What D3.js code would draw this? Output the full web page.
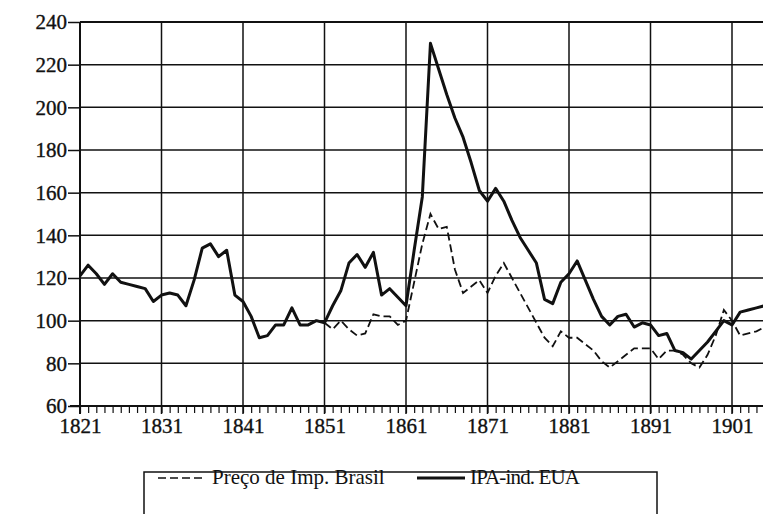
<!DOCTYPE html>
<html>
<head>
<meta charset="utf-8">
<script src="https://cdn.jsdelivr.net/npm/d3@7/dist/d3.min.js"></script>
<style>
  body { margin: 0; background: #fff; }
  svg { display: block; }
</style>
</head>
<body>
<svg id="chart"></svg>
<script>
// IPA-ind. EUA, 1821-1905
var ipaStart = 1821;
var ipaEua = [
  121, 126, 122, 117, 122, 118, 117, 116, 115, 109,
  112, 113, 112, 107, 119, 134, 136, 130, 133, 112,
  109, 102, 92, 93, 98, 98, 106, 98, 98, 100,
  99, 107, 114, 127, 131, 125, 132, 112, 115, 111,
  107, 133, 158, 230, 218, 206, 195, 186, 174, 161,
  156, 162, 156, 147, 139, 133, 127, 110, 108, 118,
  122, 128, 119, 110, 102, 98, 102, 103, 97, 99,
  98, 93, 94, 86, 85, 82, 86, 90, 95, 100,
  98, 104, 105, 106, 107
];

// Preço de Imp. Brasil, 1851-1905
var precoStart = 1851;
var precoBrasil = [
  99, 96, 100, 96, 93, 94, 103, 102, 102, 98,
  100, 118, 136, 150, 143, 144, 124, 113, 116, 119,
  113, 121, 127, 120, 113, 106, 99, 92, 88, 95,
  92, 92, 89, 86, 81, 78, 81, 84, 87, 87,
  87, 82, 86, 86, 84, 80, 78, 84, 93, 105,
  100, 93, 94, 95, 97
];

var yTicks = [60, 80, 100, 120, 140, 160, 180, 200, 220, 240];
var xLabels = [1821, 1831, 1841, 1851, 1861, 1871, 1881, 1891, 1901];
var legendLabels = ["Preço de Imp. Brasil", "IPA-ind. EUA"];

var serif = "'Liberation Serif', 'DejaVu Serif', serif";
var ink = "#111";
var width = 763, height = 514;
var svg = d3.select("svg#chart").attr("width", width).attr("height", height);

var x = d3.scaleLinear().domain([1821, 1901]).range([80, 732]);
var y = d3.scaleLinear().domain([60, 240]).range([406, 22]);
var xEnd = 1906;

svg.append("clipPath").attr("id", "clip")
  .append("rect").attr("x", 0).attr("y", 0).attr("width", width).attr("height", height);

// horizontal grid
svg.append("g")
  .selectAll("line").data(yTicks.slice(1)).enter()
  .append("line")
  .attr("x1", x(1821)).attr("x2", width)
  .attr("y1", function(d) { return y(d); })
  .attr("y2", function(d) { return y(d); })
  .attr("stroke", ink)
  .attr("stroke-width", function(d) { return d === 240 ? 2 : 1.5; });

// vertical grid
svg.append("g")
  .selectAll("line").data(xLabels.slice(1)).enter()
  .append("line")
  .attr("x1", function(d) { return x(d); })
  .attr("x2", function(d) { return x(d); })
  .attr("y1", y(240)).attr("y2", y(60) + 8)
  .attr("stroke", ink).attr("stroke-width", 1.5);

// x axis: yearly minor ticks
var minorYears = d3.range(1821, xEnd);
var xMinor = d3.axisBottom(x).tickValues(minorYears).tickSize(7).tickFormat("");
var gxMinor = svg.append("g").attr("transform", "translate(0," + y(60) + ")").call(xMinor);
gxMinor.select(".domain").remove();
gxMinor.selectAll("line").attr("stroke", ink).attr("stroke-width", 1.2);

// x axis labels
var xAxis = d3.axisBottom(x).tickValues(xLabels).tickSize(0).tickPadding(12)
  .tickFormat(d3.format("d"));
var gx = svg.append("g").attr("transform", "translate(0," + y(60) + ")").call(xAxis);
gx.attr("font-family", serif).attr("font-size", 21);
gx.select(".domain").remove();
gx.selectAll("text").attr("fill", ink).attr("stroke", ink).attr("stroke-width", 0.35);

// bottom axis line
svg.append("line")
  .attr("x1", x(1821) - 10).attr("x2", width)
  .attr("y1", y(60)).attr("y2", y(60))
  .attr("stroke", ink).attr("stroke-width", 2);

// y axis
var yAxis = d3.axisLeft(y).tickValues(yTicks).tickSize(12).tickPadding(1);
var gy = svg.append("g").attr("transform", "translate(" + x(1821) + ",0)").call(yAxis);
gy.attr("font-family", serif).attr("font-size", 21);
gy.select(".domain").remove();
gy.selectAll("line").attr("stroke", ink).attr("stroke-width", 1.5);
gy.selectAll("text").attr("fill", ink).attr("stroke", ink).attr("stroke-width", 0.35);

svg.append("line")
  .attr("x1", x(1821)).attr("x2", x(1821))
  .attr("y1", y(240)).attr("y2", y(60) + 8)
  .attr("stroke", ink).attr("stroke-width", 2);

// series
var line = d3.line()
  .x(function(d) { return x(d[0]); })
  .y(function(d) { return y(d[1]); });

var precoData = precoBrasil.map(function(v, i) { return [precoStart + i, v]; });
var ipaData = ipaEua.map(function(v, i) { return [ipaStart + i, v]; });

svg.append("path")
  .attr("clip-path", "url(#clip)")
  .attr("d", line(precoData))
  .attr("fill", "none")
  .attr("stroke", ink)
  .attr("stroke-width", 1.8)
  .attr("stroke-dasharray", "8,4");

svg.append("path")
  .attr("clip-path", "url(#clip)")
  .attr("d", line(ipaData))
  .attr("fill", "none")
  .attr("stroke", ink)
  .attr("stroke-width", 3)
  .attr("stroke-linejoin", "round");

// legend
var legend = svg.append("g").attr("font-family", serif).attr("font-size", 21);
legend.append("rect")
  .attr("x", 144).attr("y", 472)
  .attr("width", 513).attr("height", 60)
  .attr("fill", "none").attr("stroke", ink).attr("stroke-width", 1.5);

legend.append("line")
  .attr("x1", 158).attr("x2", 205).attr("y1", 478).attr("y2", 478)
  .attr("stroke", ink).attr("stroke-width", 1.5).attr("stroke-dasharray", "8,4");
legend.append("text")
  .attr("x", 212).attr("y", 484)
  .attr("fill", ink)
  .text(legendLabels[0]);

legend.append("line")
  .attr("x1", 417).attr("x2", 465).attr("y1", 478).attr("y2", 478)
  .attr("stroke", ink).attr("stroke-width", 3);
legend.append("text")
  .attr("x", 470).attr("y", 484)
  .attr("fill", ink)
  .attr("textLength", 110)
  .text(legendLabels[1]);
</script>
</body>
</html>
